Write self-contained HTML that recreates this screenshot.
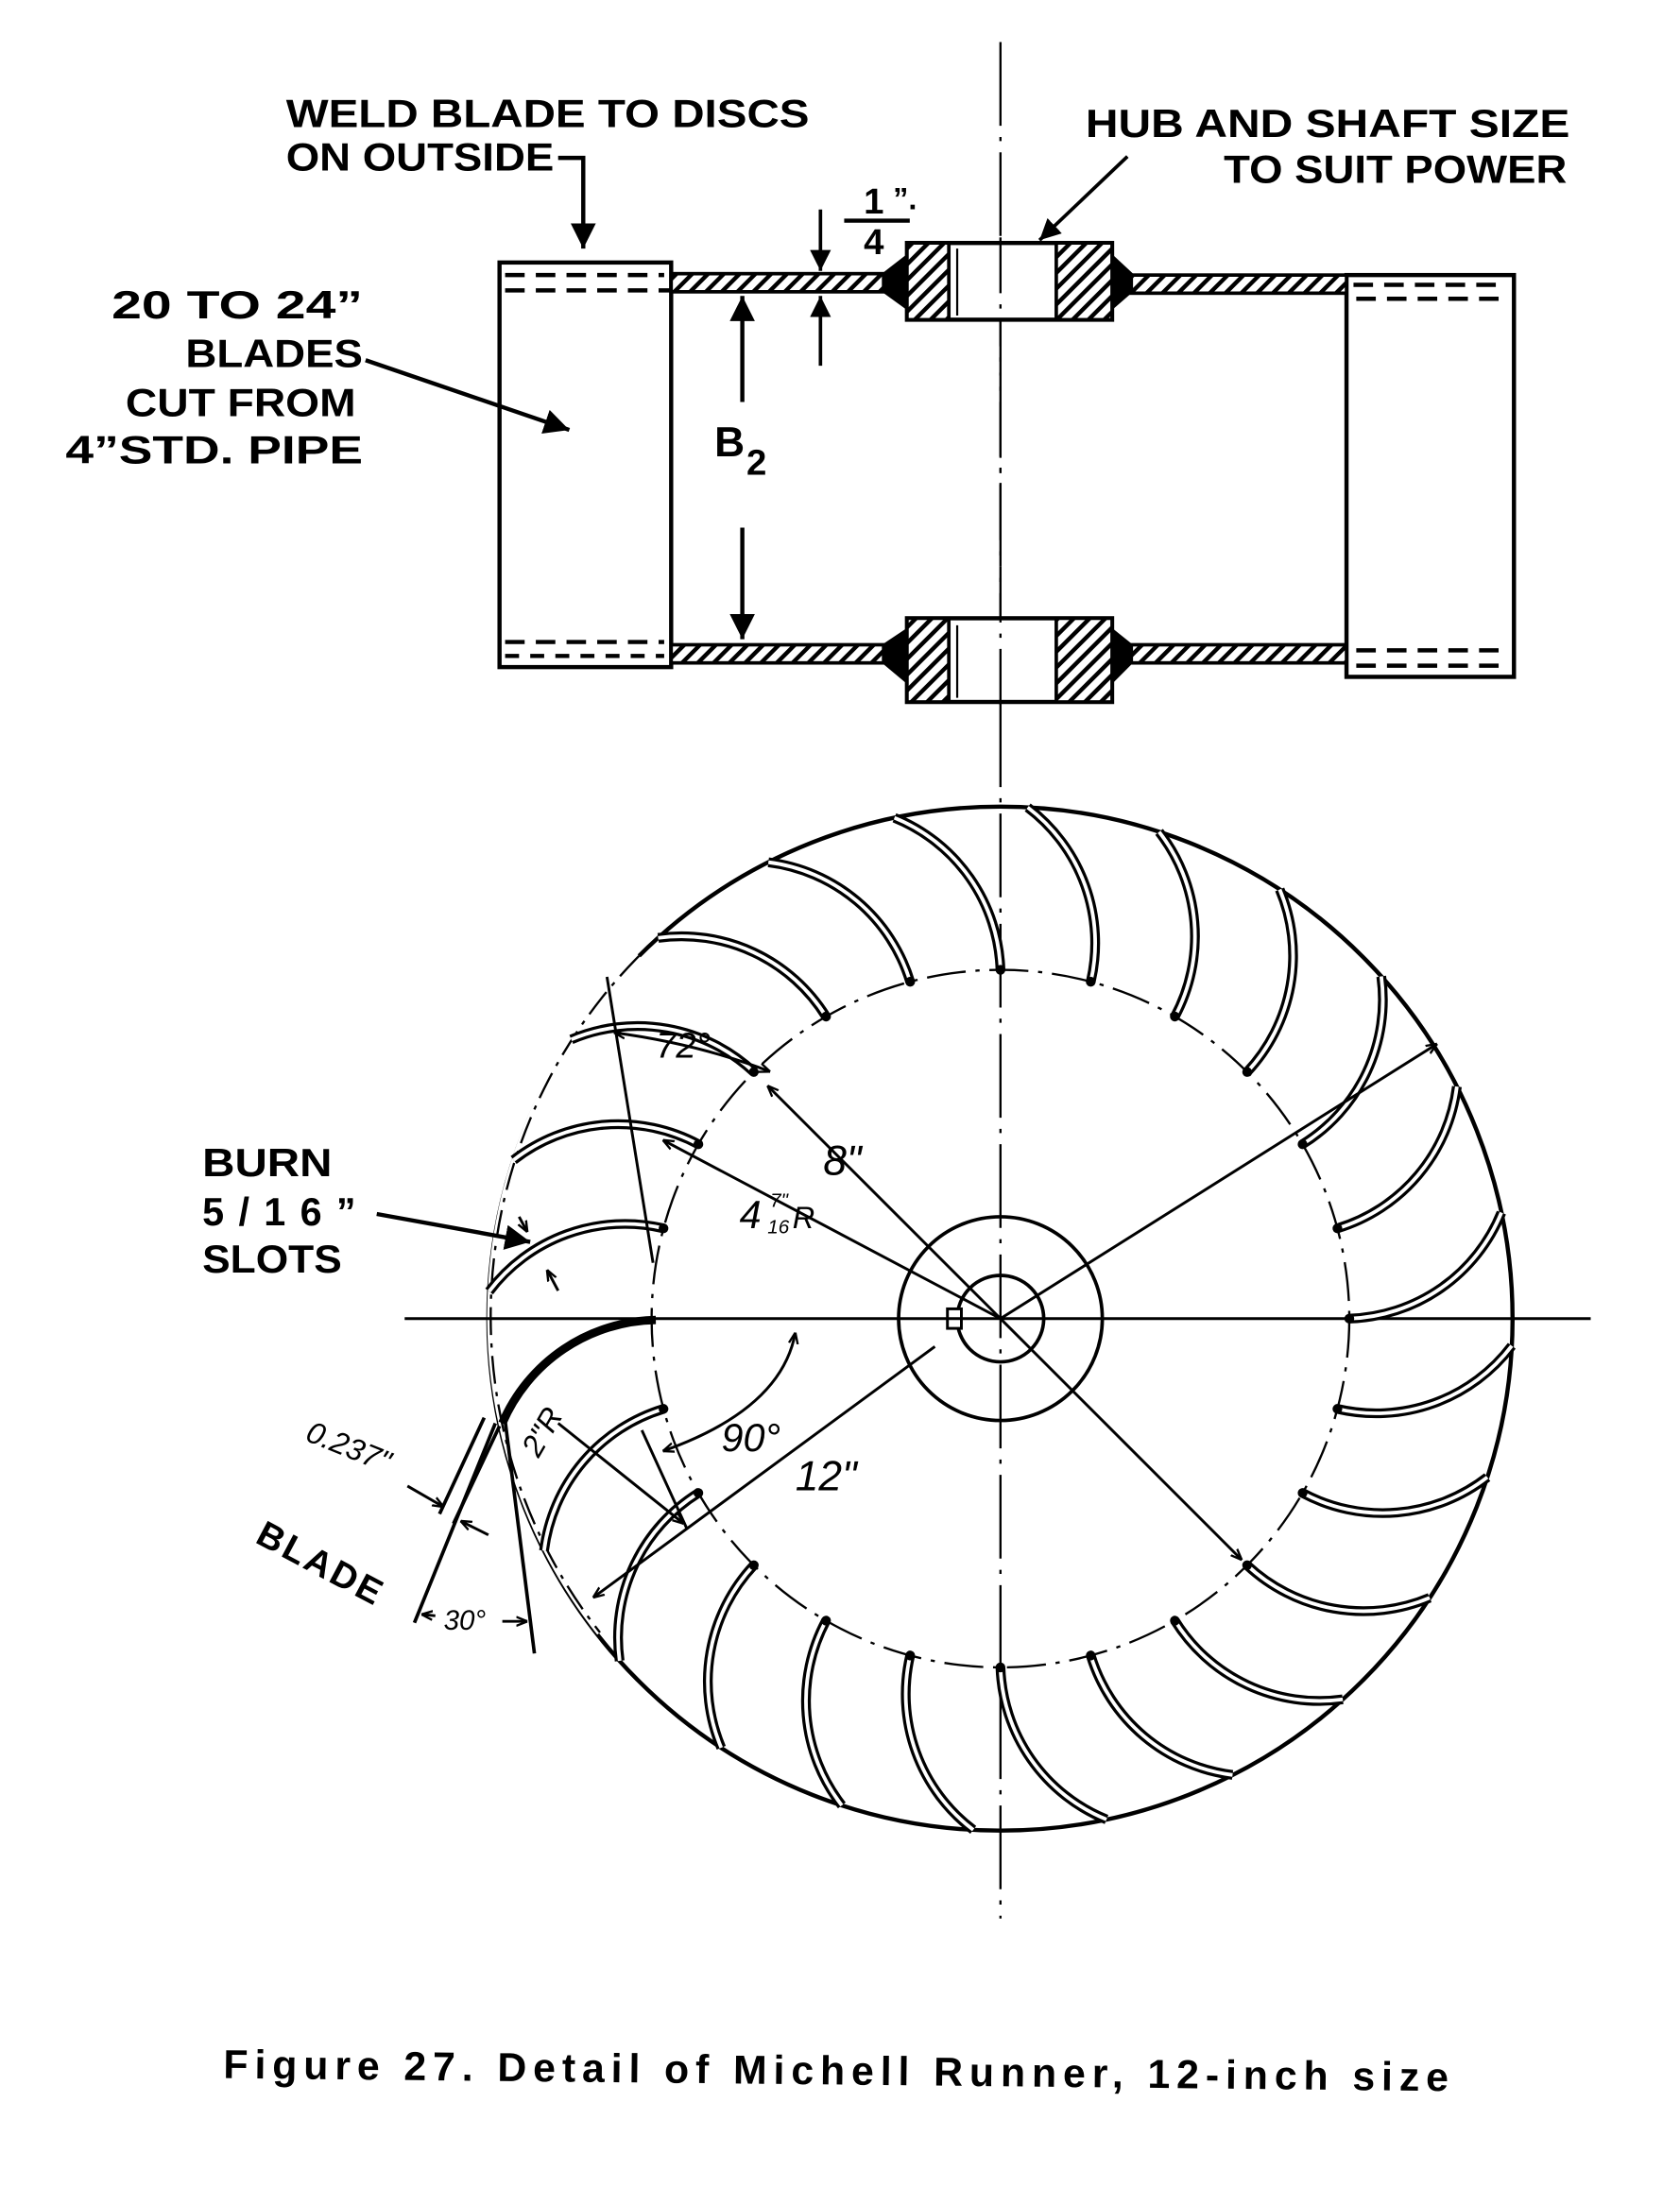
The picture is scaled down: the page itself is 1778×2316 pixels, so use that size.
<!DOCTYPE html>
<html><head><meta charset="utf-8"><style>
html,body{margin:0;padding:0;background:#fff;}
svg{display:block;}
text{font-family:"Liberation Sans",sans-serif;font-weight:bold;fill:#000;}
.h{font-family:"Liberation Sans",sans-serif;font-weight:normal;font-style:italic;}
</style></head><body>
<svg width="1778" height="2316" viewBox="0 0 1204 1568" xmlns="http://www.w3.org/2000/svg">
<defs>
<pattern id="hat" patternUnits="userSpaceOnUse" width="8" height="8" patternTransform="rotate(45)">
<rect width="8" height="8" fill="#fff"/><rect width="3" height="8" fill="#000"/>
</pattern>
<marker id="ar" viewBox="0 0 10 10" refX="10" refY="5" markerWidth="6" markerHeight="6" orient="auto-start-reverse"><path d="M0,0 L10,5 L0,10 z" fill="#000"/></marker>
<marker id="as" viewBox="0 0 10 10" refX="10" refY="5" markerWidth="4" markerHeight="4" orient="auto-start-reverse"><path d="M0,1 L10,5 L0,9" fill="none" stroke="#000" stroke-width="2"/></marker>
<g id="blade">
<path d="M467,945 A122,122 0 0 0 358,1021" fill="none" stroke="#000" stroke-width="7"/>
<path d="M467,945 A122,122 0 0 0 358,1021" fill="none" stroke="#fff" stroke-width="2.6"/>
<circle cx="467" cy="945" r="3.5" fill="#000"/>
</g>
</defs>

<line x1="717" y1="30" x2="717" y2="1375" stroke="#000" stroke-width="1.6" stroke-dasharray="60,8,3,8"/>

<!-- Top section view -->
<rect x="358" y="188" width="123" height="290" fill="none" stroke="#000" stroke-width="3"/>
<line x1="362" y1="197" x2="476" y2="197" stroke="#000" stroke-width="3" stroke-dasharray="14,8"/>
<line x1="362" y1="208" x2="481" y2="208" stroke="#000" stroke-width="3" stroke-dasharray="14,8"/>
<line x1="362" y1="460" x2="476" y2="460" stroke="#000" stroke-width="3" stroke-dasharray="14,8"/>
<line x1="362" y1="470" x2="476" y2="470" stroke="#000" stroke-width="3" stroke-dasharray="10,8"/>
<rect x="965" y="197" width="120" height="288" fill="none" stroke="#000" stroke-width="3"/>
<line x1="970" y1="204" x2="1080" y2="204" stroke="#000" stroke-width="3" stroke-dasharray="14,8"/>
<line x1="972" y1="214" x2="1080" y2="214" stroke="#000" stroke-width="3" stroke-dasharray="14,8"/>
<line x1="972" y1="466" x2="1080" y2="466" stroke="#000" stroke-width="3" stroke-dasharray="14,8"/>
<line x1="972" y1="477" x2="1080" y2="477" stroke="#000" stroke-width="3" stroke-dasharray="14,8"/>
<rect x="481" y="196" width="160" height="13" fill="url(#hat)" stroke="#000" stroke-width="2.5"/>
<rect x="800" y="197" width="165" height="13" fill="url(#hat)" stroke="#000" stroke-width="2.5"/>
<rect x="481" y="462" width="160" height="13" fill="url(#hat)" stroke="#000" stroke-width="2.5"/>
<rect x="800" y="462" width="165" height="13" fill="url(#hat)" stroke="#000" stroke-width="2.5"/>
<path d="M632,196 L650,182 L650,222 L632,209 z" fill="#000"/>
<path d="M812,196 L797,182 L797,222 L812,209 z" fill="#000"/>
<path d="M632,462 L650,450 L650,490 L632,475 z" fill="#000"/>
<path d="M812,462 L797,450 L797,490 L812,475 z" fill="#000"/>
<rect x="650" y="174" width="147" height="55" fill="#fff" stroke="#000" stroke-width="3"/>
<rect x="650" y="174" width="30" height="55" fill="url(#hat)" stroke="#000" stroke-width="2.5"/>
<rect x="757" y="174" width="40" height="55" fill="url(#hat)" stroke="#000" stroke-width="2.5"/>
<line x1="686" y1="178" x2="686" y2="226" stroke="#000" stroke-width="1.5"/>
<rect x="650" y="443" width="147" height="60" fill="#fff" stroke="#000" stroke-width="3"/>
<rect x="650" y="443" width="30" height="60" fill="url(#hat)" stroke="#000" stroke-width="2.5"/>
<rect x="757" y="443" width="40" height="60" fill="url(#hat)" stroke="#000" stroke-width="2.5"/>
<line x1="686" y1="448" x2="686" y2="500" stroke="#000" stroke-width="1.5"/>
<line x1="717" y1="170" x2="717" y2="510" stroke="#000" stroke-width="1.6" stroke-dasharray="40,8,3,8"/>

<!-- top labels -->
<text x="205" y="91" font-size="28" textLength="375" lengthAdjust="spacingAndGlyphs">WELD BLADE TO DISCS</text>
<text x="205" y="122" font-size="28" textLength="192" lengthAdjust="spacingAndGlyphs">ON OUTSIDE</text>
<polyline points="400,113 418,113 418,178" fill="none" stroke="#000" stroke-width="3" marker-end="url(#ar)"/>
<text x="778" y="98" font-size="28" textLength="347" lengthAdjust="spacingAndGlyphs">HUB AND SHAFT SIZE</text>
<text x="877" y="131" font-size="28" textLength="246" lengthAdjust="spacingAndGlyphs">TO SUIT POWER</text>
<line x1="808" y1="112" x2="745" y2="172" stroke="#000" stroke-width="2.5" marker-end="url(#ar)"/>
<text x="80" y="228" font-size="28" textLength="180" lengthAdjust="spacingAndGlyphs">20  TO  24”</text>
<text x="133" y="263" font-size="28" textLength="127" lengthAdjust="spacingAndGlyphs">BLADES</text>
<text x="90" y="298" font-size="28" textLength="165" lengthAdjust="spacingAndGlyphs">CUT FROM</text>
<text x="47" y="332" font-size="28" textLength="213" lengthAdjust="spacingAndGlyphs">4”STD.  PIPE</text>
<line x1="262" y1="258" x2="408" y2="308" stroke="#000" stroke-width="3" marker-end="url(#ar)"/>
<text x="619" y="153" font-size="26">1</text>
<line x1="605" y1="158" x2="652" y2="158" stroke="#000" stroke-width="3"/>
<text x="619" y="182" font-size="26">4</text>
<text x="640" y="150" font-size="22">”.</text>
<line x1="588" y1="150" x2="588" y2="194" stroke="#000" stroke-width="2.5" marker-end="url(#ar)"/>
<line x1="588" y1="262" x2="588" y2="212" stroke="#000" stroke-width="2.5" marker-end="url(#ar)"/>
<line x1="532" y1="288" x2="532" y2="212" stroke="#000" stroke-width="3" marker-end="url(#ar)"/>
<line x1="532" y1="378" x2="532" y2="458" stroke="#000" stroke-width="3" marker-end="url(#ar)"/>
<text x="512" y="327" font-size="30">B</text>
<text x="535" y="340" font-size="26">2</text>

<!-- Bottom front view -->
<circle cx="717" cy="945" r="367" fill="none" stroke="#000" stroke-width="3"/>
<path d="M458,685 A367,367 0 0 0 430,1170" fill="none" stroke="#fff" stroke-width="5"/>
<path d="M458,685 A367,367 0 0 0 430,1170" fill="none" stroke="#000" stroke-width="1.6" stroke-dasharray="20,6,3,6"/>
<circle cx="717" cy="945" r="250" fill="none" stroke="#000" stroke-width="1.6" stroke-dasharray="28,7,3,7"/>
<circle cx="717" cy="945" r="73" fill="none" stroke="#000" stroke-width="2.5"/>
<circle cx="717" cy="945" r="31" fill="none" stroke="#000" stroke-width="2.5"/>
<rect x="679" y="938" width="10" height="14" fill="#fff" stroke="#000" stroke-width="2"/>
<line x1="290" y1="945" x2="1140" y2="945" stroke="#000" stroke-width="2"/>
<g>
<use href="#blade" transform="rotate(15 717 945)"/>
<use href="#blade" transform="rotate(30 717 945)"/>
<use href="#blade" transform="rotate(45 717 945)"/>
<use href="#blade" transform="rotate(60 717 945)"/>
<use href="#blade" transform="rotate(75 717 945)"/>
<use href="#blade" transform="rotate(90 717 945)"/>
<use href="#blade" transform="rotate(105 717 945)"/>
<use href="#blade" transform="rotate(120 717 945)"/>
<use href="#blade" transform="rotate(135 717 945)"/>
<use href="#blade" transform="rotate(150 717 945)"/>
<use href="#blade" transform="rotate(165 717 945)"/>
<use href="#blade" transform="rotate(180 717 945)"/>
<use href="#blade" transform="rotate(195 717 945)"/>
<use href="#blade" transform="rotate(210 717 945)"/>
<use href="#blade" transform="rotate(225 717 945)"/>
<use href="#blade" transform="rotate(240 717 945)"/>
<use href="#blade" transform="rotate(255 717 945)"/>
<use href="#blade" transform="rotate(270 717 945)"/>
<use href="#blade" transform="rotate(285 717 945)"/>
<use href="#blade" transform="rotate(300 717 945)"/>
<use href="#blade" transform="rotate(315 717 945)"/>
<use href="#blade" transform="rotate(330 717 945)"/>
<use href="#blade" transform="rotate(345 717 945)"/>
</g>
<path d="M470,946 A122,122 0 0 0 360,1020" fill="none" stroke="#000" stroke-width="6"/>

<line x1="717" y1="945" x2="1030" y2="748" stroke="#000" stroke-width="2" marker-end="url(#as)"/>
<line x1="717" y1="945" x2="890" y2="1118" stroke="#000" stroke-width="2" marker-end="url(#as)"/>
<line x1="717" y1="945" x2="475" y2="817" stroke="#000" stroke-width="2" marker-end="url(#as)"/>
<line x1="717" y1="945" x2="550" y2="778" stroke="#000" stroke-width="2" marker-end="url(#as)"/>
<line x1="670" y1="965" x2="425" y2="1145" stroke="#000" stroke-width="2" marker-end="url(#as)"/>
<line x1="435" y1="700" x2="468" y2="905" stroke="#000" stroke-width="2"/>
<path d="M440,740 Q500,748 552,768" fill="none" stroke="#000" stroke-width="2" marker-start="url(#as)" marker-end="url(#as)"/>
<path d="M570,955 Q560,1010 475,1040" fill="none" stroke="#000" stroke-width="2" marker-start="url(#as)" marker-end="url(#as)"/>
<line x1="460" y1="1025" x2="492" y2="1095" stroke="#000" stroke-width="2"/>
<line x1="400" y1="1020" x2="490" y2="1092" stroke="#000" stroke-width="2" marker-end="url(#as)"/>
<line x1="355" y1="1020" x2="297" y2="1163" stroke="#000" stroke-width="2.5"/>
<line x1="362" y1="1018" x2="383" y2="1185" stroke="#000" stroke-width="2.5"/>
<line x1="347" y1="1016" x2="315" y2="1085" stroke="#000" stroke-width="2.5"/>
<line x1="358" y1="1022" x2="325" y2="1092" stroke="#000" stroke-width="2.5"/>
<line x1="292" y1="1065" x2="318" y2="1080" stroke="#000" stroke-width="2" marker-end="url(#as)"/>
<line x1="350" y1="1100" x2="330" y2="1090" stroke="#000" stroke-width="2" marker-end="url(#as)"/>
<line x1="312" y1="1158" x2="302" y2="1157" stroke="#000" stroke-width="2" marker-end="url(#as)"/>
<line x1="360" y1="1162" x2="378" y2="1162" stroke="#000" stroke-width="2" marker-end="url(#as)"/>
<line x1="270" y1="870" x2="380" y2="890" stroke="#000" stroke-width="3" marker-end="url(#ar)"/>
<line x1="372" y1="872" x2="378" y2="883" stroke="#000" stroke-width="2" marker-end="url(#as)"/>
<line x1="400" y1="925" x2="392" y2="910" stroke="#000" stroke-width="2" marker-end="url(#as)"/>

<text x="145" y="843" font-size="28" textLength="93" lengthAdjust="spacingAndGlyphs">BURN</text>
<text x="145" y="878" font-size="28" textLength="110" lengthAdjust="spacing">5/16”</text>
<text x="145" y="912" font-size="28" textLength="100" lengthAdjust="spacingAndGlyphs">SLOTS</text>

<text class="h" x="470" y="758" font-size="26">72°</text>
<text class="h" x="590" y="842" font-size="30">8"</text>
<text class="h" x="530" y="880" font-size="28">4</text>
<text class="h" x="552" y="865" font-size="14">7"</text>
<text class="h" x="550" y="884" font-size="14">16</text>
<text class="h" x="568" y="880" font-size="22">R</text>
<text class="h" x="380" y="1035" font-size="22" transform="rotate(-60 392 1035)">2"R</text>
<text class="h" x="517" y="1040" font-size="28">90°</text>
<text class="h" x="570" y="1068" font-size="30">12"</text>
<text class="h" x="218" y="1032" font-size="22" transform="rotate(22 218 1032)">0.237"</text>
<text x="182" y="1105" font-size="26" letter-spacing="2" transform="rotate(28 182 1105)">BLADE</text>
<text class="h" x="318" y="1168" font-size="20">30°</text>

<text x="160" y="1494" font-size="29" textLength="878" lengthAdjust="spacing" transform="rotate(0.6 600 1494)">Figure  27.  Detail  of  Michell  Runner,  12-inch  size</text>
</svg>
</body></html>
